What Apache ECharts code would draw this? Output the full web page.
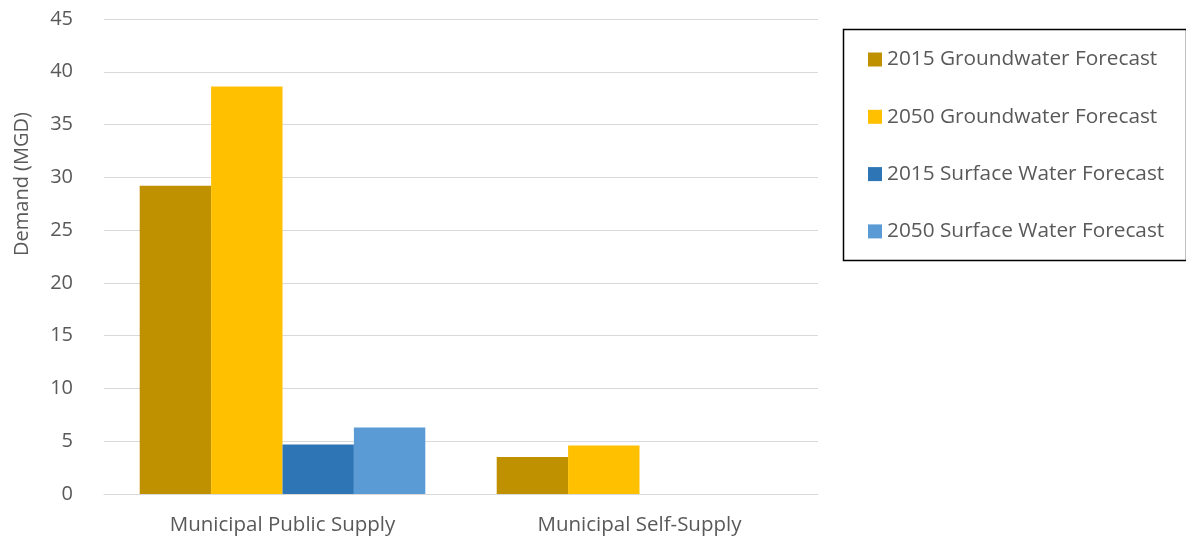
<!DOCTYPE html>
<html>
<head>
<meta charset="utf-8">
<script src="https://cdn.jsdelivr.net/npm/echarts@6/dist/echarts.min.js"></script>
<style>html,body{margin:0;padding:0;background:#fff}#c{width:1186px;height:540px}</style>
</head>
<body>
<div id="c"></div>
<script>
const categories = ['Municipal Public Supply', 'Municipal Self-Supply'];
const seriesNames = ['2015 Groundwater Forecast', '2050 Groundwater Forecast', '2015 Surface Water Forecast', '2050 Surface Water Forecast'];
const gw2015 = [29.2, 3.5];
const gw2050 = [38.6, 4.6];
const sw2015 = [4.7, 0];
const sw2050 = [6.3, 0];
const yTicks = [0, 5, 10, 15, 20, 25, 30, 35, 40, 45];
const colors = ['#BF9000', '#FFC000', '#2E75B6', '#5B9BD5'];

const FONT = 'Open Sans';
const seriesData = [gw2015, gw2050, sw2015, sw2050];
const chart = echarts.init(document.getElementById('c'), null, {renderer: 'canvas'});
chart.setOption({
  animation: false,
  textStyle: {fontFamily: FONT},
  grid: {left: 104, right: 368, top: 19, bottom: 46, containLabel: false},
  xAxis: {
    type: 'category',
    data: categories,
    axisLine: {lineStyle: {color: '#d9d9d9', width: 1}},
    axisTick: {show: false},
    axisLabel: {color: '#595959', fontSize: 20.5, fontFamily: FONT, margin: 21}
  },
  yAxis: {
    type: 'value',
    min: yTicks[0],
    max: yTicks[yTicks.length - 1],
    interval: 5,
    axisLine: {show: false},
    axisTick: {show: false},
    splitLine: {lineStyle: {color: '#d9d9d9', width: 1}},
    axisLabel: {color: '#595959', fontSize: 20, fontFamily: FONT, margin: 31}
  },
  legend: {
    orient: 'vertical',
    left: 863,
    top: 44,
    itemWidth: 14,
    itemHeight: 14,
    itemGap: 36.3,
    icon: 'rect',
    data: seriesNames,
    textStyle: {color: '#595959', fontSize: 20.8, fontFamily: FONT, lineHeight: 20, padding: [0, 0, 0, 0]}
  },
  graphic: [
    {type: 'rect', left: 841, top: 27, shape: {width: 343, height: 231}, style: {fill: 'none', stroke: '#000', lineWidth: 1.5}},
    {type: 'text', x: 22, y: 184, rotation: Math.PI / 2, style: {text: 'Demand (MGD)', fill: '#595959', font: '20px "Open Sans"', align: 'center', verticalAlign: 'middle'}}
  ],
  series: seriesNames.map((n, i) => ({
    name: n,
    type: 'bar',
    data: seriesData[i],
    barGap: '0%',
    barCategoryGap: '20%',
    itemStyle: {color: colors[i]}
  }))
});
</script>
</body>
</html>
